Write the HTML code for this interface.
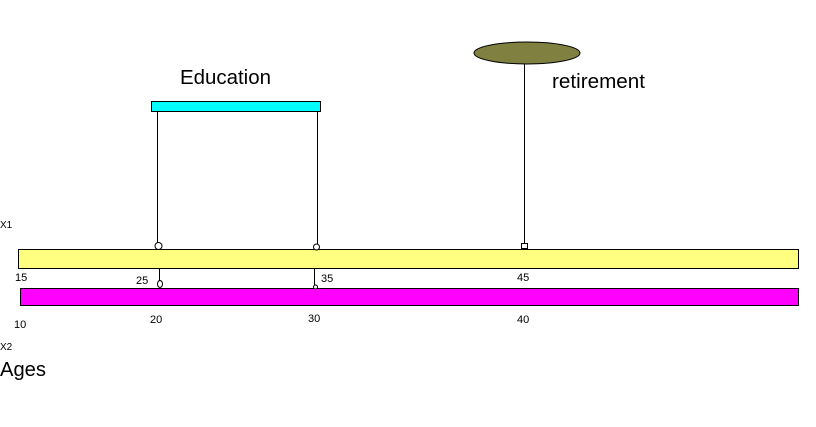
<!DOCTYPE html>
<html><head><meta charset="utf-8"><style>
html,body{margin:0;padding:0;background:#fff;width:816px;height:427px;overflow:hidden}
text{font-family:"Liberation Sans",sans-serif}
</style></head><body>
<svg width="816" height="427" xmlns="http://www.w3.org/2000/svg">
<rect x="151.5" y="101.5" width="169" height="10" fill="#00ffff" stroke="#000"/>
<ellipse cx="527" cy="53" rx="53" ry="11" fill="#808040" stroke="#000"/>
<line x1="157.5" y1="111" x2="157.5" y2="243" stroke="#000"/>
<line x1="317.5" y1="111" x2="317.5" y2="244" stroke="#000"/>
<line x1="524.5" y1="64" x2="524.5" y2="243" stroke="#000"/>
<rect x="18.5" y="249.5" width="780" height="19" fill="#ffff80" stroke="#000"/>
<rect x="20.5" y="288.5" width="778" height="17" fill="#ff00ff" stroke="#000"/>
<circle cx="158.5" cy="246" r="3.5" fill="#fff" stroke="#000"/>
<circle cx="316.5" cy="247" r="3" fill="#fff" stroke="#000"/>
<rect x="521.5" y="243.5" width="6" height="5" fill="#fff" stroke="#000"/>
<line x1="159.5" y1="269" x2="159.5" y2="281" stroke="#000"/>
<line x1="314.5" y1="269" x2="314.5" y2="285" stroke="#000"/>
<ellipse cx="160" cy="284" rx="2.5" ry="3.5" fill="#fff" stroke="#000"/>
<circle cx="315.5" cy="287" r="2" fill="#fff" stroke="#000"/>
<text x="180" y="84" font-size="20" textLength="91" lengthAdjust="spacingAndGlyphs">Education</text>
<text x="552" y="88" font-size="20" textLength="93" lengthAdjust="spacingAndGlyphs">retirement</text>
<text x="0" y="228" font-size="10">X1</text>
<text x="0" y="350" font-size="10">X2</text>
<text x="0" y="376" font-size="20" textLength="46" lengthAdjust="spacingAndGlyphs">Ages</text>
<g font-size="11">
<text x="15" y="281">15</text>
<text x="136" y="284">25</text>
<text x="321" y="282">35</text>
<text x="517" y="281">45</text>
<text x="14" y="328">10</text>
<text x="150" y="323">20</text>
<text x="308" y="322">30</text>
<text x="517" y="323">40</text>
</g>
</svg>
</body></html>
